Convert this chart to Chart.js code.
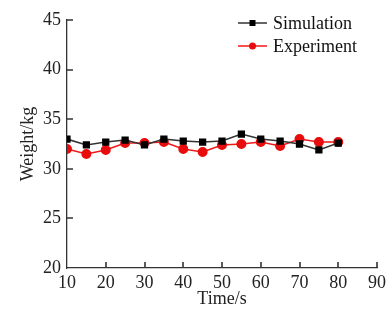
<!DOCTYPE html>
<html>
<head>
<meta charset="utf-8">
<script src="https://cdn.jsdelivr.net/npm/chart.js@4.4.0/dist/chart.umd.min.js"></script>
<style>
  html, body { margin: 0; padding: 0; background: #fff; }
  #wrap { width: 390px; height: 320px; }
</style>
</head>
<body>
<div id="wrap"><canvas id="weight-chart" width="390" height="320"></canvas></div>
<script>
const times = [10, 15, 20, 25, 30, 35, 40, 45, 50, 55, 60, 65, 70, 75, 80];
const simulation = [33.0, 32.4, 32.7, 32.9, 32.4, 33.0, 32.8, 32.7, 32.8, 33.5, 33.0, 32.8, 32.5, 31.9, 32.6];
const experiment = [32.0, 31.5, 31.9, 32.6, 32.6, 32.7, 32.0, 31.7, 32.4, 32.5, 32.7, 32.3, 33.0, 32.7, 32.7];
const xTicks = [10, 20, 30, 40, 50, 60, 70, 80, 90];
const yTicks = [20, 25, 30, 35, 40, 45];

const serif = "'Liberation Serif', 'Times New Roman', serif";
const axisColor = '#333';

// inward tick marks plus the legend in the top right corner
const decorations = {
  id: 'decorations',
  afterDraw(chart) {
    const c = chart.ctx;
    const area = chart.chartArea;
    const xs = chart.scales.x, ys = chart.scales.y;
    c.save();
    c.strokeStyle = axisColor;
    c.lineWidth = 1.6;
    c.beginPath();
    for (const v of xTicks.slice(1)) {
      const px = Math.round(xs.getPixelForValue(v));
      c.moveTo(px, area.bottom);
      c.lineTo(px, area.bottom - 6);
    }
    for (const v of yTicks.slice(1)) {
      const py = Math.round(ys.getPixelForValue(v));
      c.moveTo(area.left, py);
      c.lineTo(area.left + 6, py);
    }
    c.stroke();

    c.font = '18px ' + serif;
    c.textBaseline = 'middle';
    chart.data.datasets.forEach((ds, i) => {
      const y = 23 + i * 23;
      c.strokeStyle = ds.borderColor;
      c.lineWidth = 1.5;
      c.beginPath();
      c.moveTo(238, y);
      c.lineTo(267, y);
      c.stroke();
      c.fillStyle = ds.pointBackgroundColor;
      if (ds.pointStyle === 'rect') {
        c.fillRect(249.5, y - 3, 6, 6);
      } else {
        c.beginPath();
        c.arc(252.5, y, 3.5, 0, Math.PI * 2);
        c.fill();
      }
      c.fillStyle = '#111';
      c.fillText(ds.label, 273, y + 1);
    });
    c.restore();
  }
};

const ctx = document.getElementById('weight-chart').getContext('2d');
new Chart(ctx, {
  type: 'line',
  data: {
    labels: times,
    datasets: [{
      label: 'Simulation',
      data: times.map((t, i) => ({x: t, y: simulation[i]})),
      borderColor: '#333',
      borderWidth: 1.6,
      pointStyle: 'rect',
      pointRadius: 4,
      pointBackgroundColor: '#000',
      pointBorderColor: '#000',
      tension: 0
    }, {
      label: 'Experiment',
      data: times.map((t, i) => ({x: t, y: experiment[i]})),
      borderColor: '#f01818',
      borderWidth: 1.6,
      pointStyle: 'circle',
      pointRadius: 4.2,
      pointBackgroundColor: '#e80c0c',
      pointBorderColor: '#e80c0c',
      tension: 0
    }]
  },
  options: {
    responsive: false,
    animation: false,
    layout: { padding: { left: 0, top: 20, right: 11, bottom: 0 } },
    plugins: { legend: { display: false }, tooltip: { enabled: false } },
    scales: {
      x: {
        type: 'linear',
        min: 10,
        max: 90,
        afterBuildTicks: s => { s.ticks = xTicks.map(v => ({value: v})); },
        afterFit: s => { s.height = 52; },
        border: { display: true, color: axisColor, width: 1.3 },
        grid: { display: false, drawTicks: false },
        ticks: { color: '#222', padding: 4, maxRotation: 0, font: { family: serif, size: 18 } },
        title: {
          display: true,
          text: 'Time/s',
          color: '#222',
          padding: { top: 0, bottom: 10 },
          font: { family: serif, size: 18 }
        }
      },
      y: {
        min: 20,
        max: 45,
        afterBuildTicks: s => { s.ticks = yTicks.map(v => ({value: v})); },
        afterFit: s => { s.width = 67; },
        border: { display: true, color: axisColor, width: 1.3 },
        grid: { display: false, drawTicks: false },
        ticks: { color: '#222', padding: 6, font: { family: serif, size: 18 } },
        title: {
          display: true,
          text: 'Weight/kg',
          color: '#222',
          padding: { top: 17, bottom: 0 },
          font: { family: serif, size: 18 }
        }
      }
    }
  },
  plugins: [decorations]
});
</script>
</body>
</html>
